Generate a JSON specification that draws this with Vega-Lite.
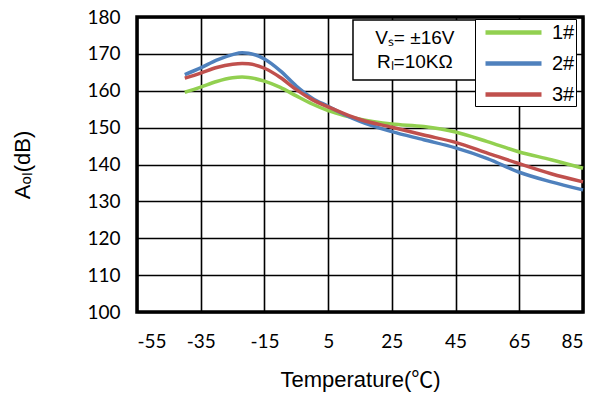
{
  "$schema": "https://vega.github.io/schema/vega-lite/v6.json",
  "width": 446,
  "height": 295,
  "autosize": "none",
  "padding": {"left": 137, "top": 17, "right": 20, "bottom": 84},
  "background": "white",
  "config": {
    "view": {"stroke": "black", "strokeWidth": 3.5},
    "axis": {"gridColor": "black", "gridWidth": 1.6, "gridOpacity": 1, "domain": false, "ticks": false, "labelOverlap": false,
      "labelFont": "Lato", "labelFontSize": 19, "labelColor": "black", "titleFont": "Liberation Sans, Noto Sans CJK SC", "titleFontSize": 22, "titleFontWeight": "normal", "titleColor": "black"}
  },
  "layer": [
    {
      "data": {"values": [
        {"series": "1#", "t": -40, "a": 159.6}, {"series": "1#", "t": -35, "a": 161.0}, {"series": "1#", "t": -30, "a": 162.5}, {"series": "1#", "t": -25, "a": 163.5}, {"series": "1#", "t": -22, "a": 163.7}, {"series": "1#", "t": -20, "a": 163.6}, {"series": "1#", "t": -15, "a": 162.6}, {"series": "1#", "t": -10, "a": 160.9}, {"series": "1#", "t": -5, "a": 158.6}, {"series": "1#", "t": 0, "a": 156.4}, {"series": "1#", "t": 5, "a": 154.6}, {"series": "1#", "t": 10, "a": 153.3}, {"series": "1#", "t": 15, "a": 152.3}, {"series": "1#", "t": 25, "a": 151.0}, {"series": "1#", "t": 35, "a": 150.3}, {"series": "1#", "t": 45, "a": 148.8}, {"series": "1#", "t": 55, "a": 146.2}, {"series": "1#", "t": 65, "a": 143.4}, {"series": "1#", "t": 75, "a": 141.3}, {"series": "1#", "t": 85, "a": 139.0},
        {"series": "2#", "t": -40, "a": 164.4}, {"series": "2#", "t": -35, "a": 166.2}, {"series": "2#", "t": -30, "a": 168.3}, {"series": "2#", "t": -25, "a": 169.8}, {"series": "2#", "t": -22, "a": 170.3}, {"series": "2#", "t": -20, "a": 170.2}, {"series": "2#", "t": -15, "a": 168.6}, {"series": "2#", "t": -10, "a": 165.4}, {"series": "2#", "t": -5, "a": 161.3}, {"series": "2#", "t": 0, "a": 158.0}, {"series": "2#", "t": 5, "a": 155.8}, {"series": "2#", "t": 10, "a": 153.6}, {"series": "2#", "t": 15, "a": 151.7}, {"series": "2#", "t": 25, "a": 148.9}, {"series": "2#", "t": 35, "a": 146.7}, {"series": "2#", "t": 45, "a": 144.5}, {"series": "2#", "t": 55, "a": 141.6}, {"series": "2#", "t": 65, "a": 137.9}, {"series": "2#", "t": 75, "a": 135.3}, {"series": "2#", "t": 85, "a": 133.1},
        {"series": "3#", "t": -40, "a": 163.4}, {"series": "3#", "t": -35, "a": 164.8}, {"series": "3#", "t": -30, "a": 166.3}, {"series": "3#", "t": -25, "a": 167.2}, {"series": "3#", "t": -22, "a": 167.4}, {"series": "3#", "t": -20, "a": 167.3}, {"series": "3#", "t": -15, "a": 166.1}, {"series": "3#", "t": -10, "a": 163.6}, {"series": "3#", "t": -5, "a": 160.3}, {"series": "3#", "t": 0, "a": 157.6}, {"series": "3#", "t": 5, "a": 155.6}, {"series": "3#", "t": 10, "a": 153.8}, {"series": "3#", "t": 15, "a": 152.2}, {"series": "3#", "t": 25, "a": 150.1}, {"series": "3#", "t": 35, "a": 148.0}, {"series": "3#", "t": 45, "a": 146.0}, {"series": "3#", "t": 55, "a": 143.1}, {"series": "3#", "t": 65, "a": 140.2}, {"series": "3#", "t": 75, "a": 137.5}, {"series": "3#", "t": 85, "a": 135.3}
      ]},
      "mark": {"type": "line", "interpolate": "monotone", "strokeWidth": 3.5},
      "encoding": {
        "x": {"field": "t", "type": "quantitative", "scale": {"domain": [-55, 85], "nice": false, "zero": false},
          "axis": {"values": [-55, -35, -15, 5, 25, 45, 65, 85], "labelExpr": "toString(datum.value)", "title": "Temperature(℃)", "labelPadding": 20, "titlePadding": 18}},
        "y": {"field": "a", "type": "quantitative", "scale": {"domain": [100, 180], "nice": false, "zero": false},
          "axis": {"values": [100, 110, 120, 130, 140, 150, 160, 170, 180], "tickCount": 9, "labelExpr": "toString(datum.value)", "title": "Aₒₗ(dB)", "labelPadding": 17, "titlePadding": 52}},
        "color": {"field": "series", "type": "nominal",
          "scale": {"domain": ["1#", "2#", "3#"], "range": ["#92D050", "#4F81BD", "#C0504D"]},
          "legend": {"orient": "none", "legendX": 338, "legendY": 2, "title": null, "direction": "vertical",
            "fillColor": "white", "strokeColor": "black", "padding": 1,
            "symbolType": "M-0.3,0H5.3", "symbolSize": 400, "symbolStrokeWidth": 4.5,
            "labelFont": "Liberation Sans", "labelFontSize": 20, "labelColor": "black", "labelOffset": 51, "rowPadding": 8,
            "labelExpr": "datum.label + '\u00a0\u00a0'"}}
      }
    },
    {
      "data": {"values": [{"box": "conditions"}]},
      "mark": {"type": "rect", "fill": "white", "stroke": "black", "strokeWidth": 1.5},
      "encoding": {
        "x": {"datum": 12.8, "axis": {"values": [-55, -35, -15, 5, 25, 45, 65, 85], "labelExpr": "toString(datum.value)", "title": "Temperature(℃)", "labelPadding": 20, "titlePadding": 18}},
        "x2": {"datum": 51.7},
        "y": {"datum": 179.2, "axis": {"values": [100, 110, 120, 130, 140, 150, 160, 170, 180], "tickCount": 9, "labelExpr": "toString(datum.value)", "title": "Aₒₗ(dB)", "labelPadding": 17, "titlePadding": 52}},
        "y2": {"datum": 162.9}}
    },
    {
      "data": {"values": [{"line": "Vₛ= ±16V"}]},
      "mark": {"type": "text", "font": "Liberation Sans", "fontSize": 19, "fontWeight": "normal", "fill": "black", "align": "center", "baseline": "middle"},
      "encoding": {"x": {"datum": 32.2}, "y": {"datum": 174.3}, "text": {"field": "line"}}
    },
    {
      "data": {"values": [{"line": "Rₗ=10KΩ"}]},
      "mark": {"type": "text", "font": "Liberation Sans", "fontSize": 19, "fontWeight": "normal", "fill": "black", "align": "center", "baseline": "middle"},
      "encoding": {"x": {"datum": 32.2}, "y": {"datum": 167.8}, "text": {"field": "line"}}
    }
  ]
}
